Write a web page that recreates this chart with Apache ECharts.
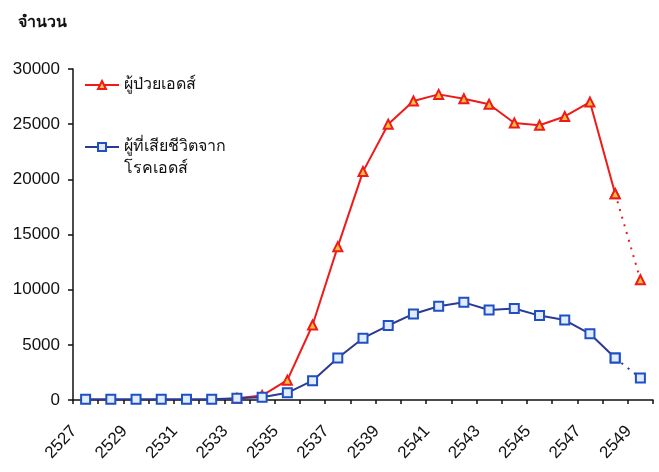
<!DOCTYPE html>
<html>
<head>
<meta charset="utf-8">
<script src="https://cdn.jsdelivr.net/npm/echarts@6/dist/echarts.min.js"></script>
<style>
html,body{margin:0;padding:0;background:#fff;}
#c{width:659px;height:472px;}
</style>
</head>
<body>
<div id="c"></div>
<script>
// ---- data ----
var years = ['2527','2528','2529','2530','2531','2532','2533','2534','2535','2536','2537','2538','2539','2540','2541','2542','2543','2544','2545','2546','2547','2548','2549'];
var patients = [null,null,null,null,null,null,150,400,1800,6800,13900,20700,25000,27100,27700,27300,26800,25100,24900,25700,27000,18700,10900];
var deaths = [60,60,60,60,60,60,150,250,650,1750,3800,5600,6750,7800,8500,8850,8150,8300,7650,7250,6000,3800,2000];
var yTicks = [0,5000,10000,15000,20000,25000,30000];
var nameP = 'ผู้ป่วยเอดส์';
var nameD = 'ผู้ที่เสียชีวิตจากโรคเอดส์';
var nameDLines = ['ผู้ที่เสียชีวิตจาก', 'โรคเอดส์'];
var yName = 'จำนวน';

// solid part = all but last point; dotted part = last two points
function solidPart(a){ return a.map(function(v,i){ return i < a.length-1 ? v : null; }); }
function dottedPart(a){ return a.map(function(v,i){ return i >= a.length-2 ? v : null; }); }

var FONT = '"Liberation Sans", Arial, "Noto Sans", sans-serif';
var redLine = '#ee1b1b', redFill = '#ffbe3c';
var blueLine = '#2c3a92', blueEdge = '#1f4fc4', blueFill = '#e2ecff';

var chart = echarts.init(document.getElementById('c'), null, {renderer:'canvas'});
chart.setOption({
  animation: false,
  backgroundColor: '#fff',
  title: {
    text: yName, left: 18, top: 15, padding: 0,
    textStyle: {fontFamily: FONT, fontSize: 16, fontWeight: 'bold', color: '#111'}
  },
  legend: [{
    orient: 'vertical', left: 84, top: 74, padding: 0,
    itemWidth: 34, itemHeight: 10,
    data: [nameP],
    textStyle: {fontFamily: FONT, fontSize: 16, color: '#111', lineHeight: 22}
  },{
    orient: 'vertical', left: 84, top: 114, padding: 0,
    itemWidth: 34, itemHeight: 10,
    data: [nameD],
    // blank first line keeps the first text line centred on the icon
    formatter: function(n){ return n === nameD ? ' \n' + nameDLines.join('\n') : n; },
    textStyle: {fontFamily: FONT, fontSize: 16, color: '#111', lineHeight: 22}
  }],
  grid: {left: 73, right: 6, top: 69, bottom: 72, containLabel: false, outerBoundsMode: 'none'},
  xAxis: {
    type: 'category', data: years, boundaryGap: true,
    axisLine: {lineStyle: {color: '#111', width: 1.5}},
    axisTick: {show: true, inside: false, length: 4, interval: 0, lineStyle: {color: '#111', width: 1.5}},
    axisLabel: {interval: 1, rotate: 47, margin: 16, padding: [0,17,0,0],
      fontFamily: FONT, fontSize: 17, color: '#111'},
    splitLine: {show: false}
  },
  yAxis: {
    type: 'value', min: yTicks[0], max: yTicks[yTicks.length-1], interval: yTicks[1]-yTicks[0],
    axisLine: {show: true, lineStyle: {color: '#111', width: 1.5}},
    axisTick: {show: true, length: 5, lineStyle: {color: '#111', width: 1.5}},
    axisLabel: {margin: 13, fontFamily: FONT, fontSize: 17, color: '#111',
      formatter: function(v){ return String(v); }},
    splitLine: {show: false}
  },
  series: [
    {name: nameP, type: 'line', data: solidPart(patients), connectNulls: false,
     symbol: 'triangle', symbolSize: 9, showAllSymbol: true,
     lineStyle: {color: redLine, width: 2},
     itemStyle: {color: redFill, borderColor: redLine, borderWidth: 2}, z: 2},
    {name: nameP + '_dot', type: 'line', data: dottedPart(patients),
     symbol: 'triangle', symbolSize: 9, showAllSymbol: true,
     lineStyle: {color: redLine, width: 2, type: [2,6]},
     itemStyle: {color: redFill, borderColor: redLine, borderWidth: 2}, z: 2},
    {name: nameD, type: 'line', data: solidPart(deaths),
     symbol: 'rect', symbolSize: 9, showAllSymbol: true,
     lineStyle: {color: blueLine, width: 2},
     itemStyle: {color: blueFill, borderColor: blueEdge, borderWidth: 2}, z: 3},
    {name: nameD + '_dot', type: 'line', data: dottedPart(deaths),
     symbol: 'rect', symbolSize: 9, showAllSymbol: true,
     lineStyle: {color: blueLine, width: 2, type: [2,6]},
     itemStyle: {color: blueFill, borderColor: blueEdge, borderWidth: 2}, z: 3}
  ]
});
</script>
</body>
</html>
